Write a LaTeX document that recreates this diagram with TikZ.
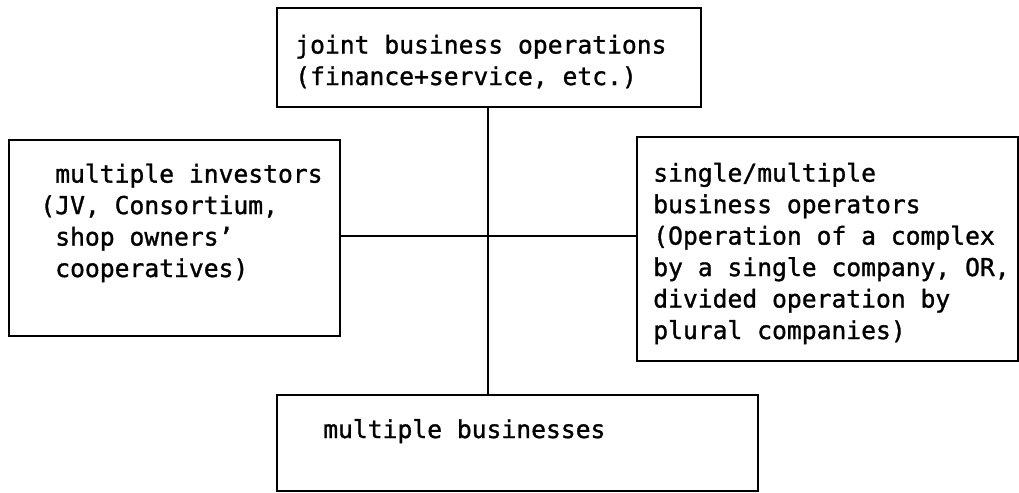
\documentclass[tikz,border=0pt]{standalone}
\usepackage{fontspec}
\newfontfamily\boxfont[FakeBold=1.2]{DejaVu Sans Mono}
\usetikzlibrary{positioning}

\tikzset{
  frame/.style={draw, line width=1.3pt, rectangle, inner sep=0pt, anchor=north west},
  label text/.style={font=\boxfont\fontsize{18.5}{23.6}\selectfont, align=left,
    inner sep=0pt, anchor=base west},
  link/.style={line width=1pt}
}

\begin{document}
\begin{tikzpicture}[x=0.75pt, y=-0.75pt]
\useasboundingbox (0,0) rectangle (1019,492);

% boxes
\node[frame, minimum width=318pt, minimum height=74.25pt] (ops) at (276,7) {};
\node[frame, minimum width=248.25pt, minimum height=147pt] (investors) at (8,139) {};
\node[frame, minimum width=285.75pt, minimum height=168pt] (operators) at (636,136) {};
\node[frame, minimum width=360.75pt, minimum height=72pt] (businesses) at (276,394) {};

% texts (anchored at the baseline of their last line)
\node[label text] (opstext) at (295,85)
  {joint business operations\\(finance+service, etc.)};
\node[label text] (investorstext) at (55,277)
  {multiple investors\\\llap{(}JV, Consortium,\\shop owners’\\cooperatives)};
\node[label text] (operatorstext) at (653,339)
  {single/multiple\\business operators\\(Operation of a complex\\by a single company, OR,\\divided operation by\\plural companies)};
\node[label text] (businessestext) at (323,438) {multiple businesses};

% connectors
\coordinate (hub) at (488,236);
\draw[link] (ops.south -| hub) -- (businesses.north -| hub);
\draw[link] (investors.east |- hub) -- (operators.west |- hub);

\end{tikzpicture}
\end{document}
